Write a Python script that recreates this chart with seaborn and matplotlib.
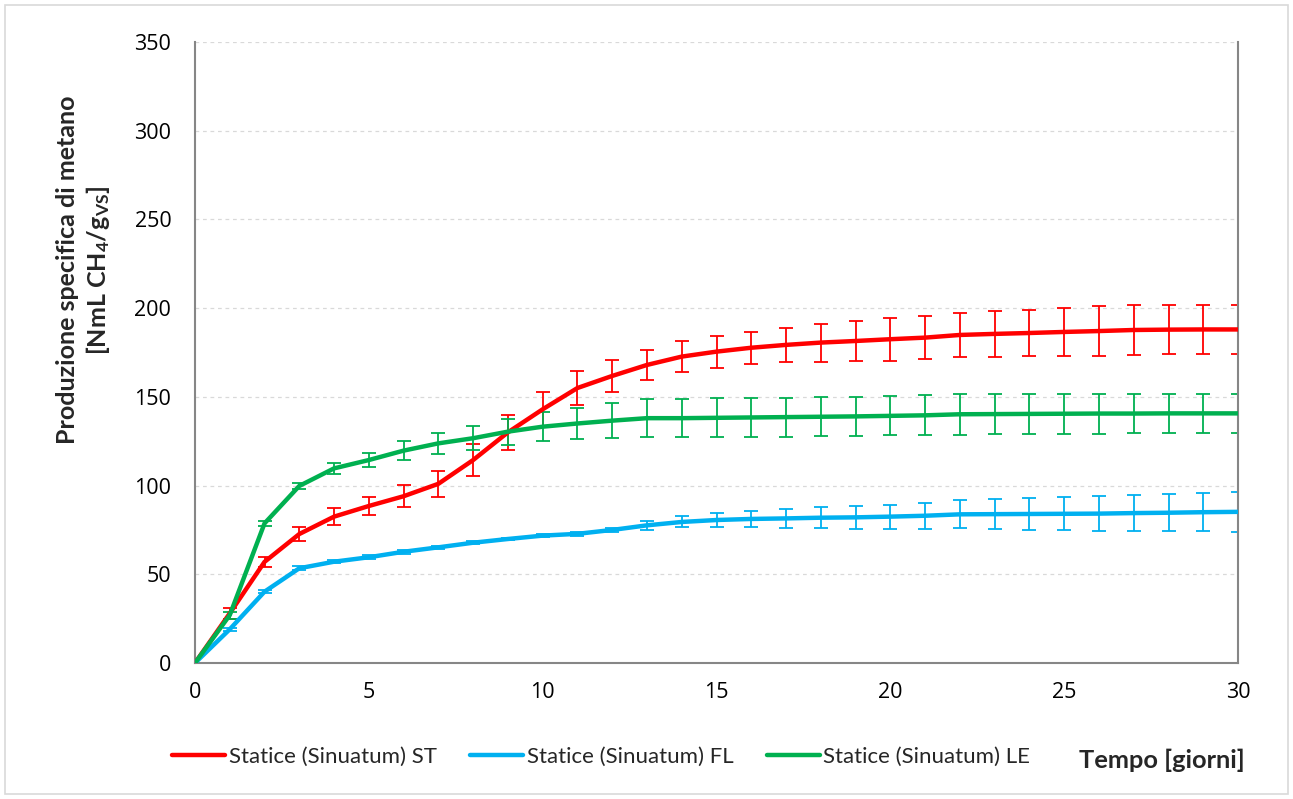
import numpy as np
import pandas as pd
import matplotlib
matplotlib.use("Agg")
import matplotlib.pyplot as plt
import seaborn as sns
from matplotlib.patches import Rectangle

# Giorni di digestione
giorni = list(range(0, 31))

# Produzione specifica cumulata [NmL CH4/gVS]
st_media = [0, 28, 57, 72.7, 82.5, 88.5, 94, 101, 114.4, 130, 143, 155, 161.8, 168,
            172.7, 175.5, 177.7, 179.3, 180.6, 181.5, 182.5, 183.4, 184.9, 185.5, 186,
            186.6, 187.1, 187.7, 187.9, 188, 188]
st_err = [0, 3, 3, 4, 4.6, 5, 6.3, 7.5, 9, 10, 10, 9.4, 9, 8.7, 8.7, 9, 9, 9.6, 10.7,
          11, 12, 12, 12.6, 12.9, 13, 13.5, 14, 14.2, 14, 13.8, 14]

fl_media = [0, 19, 40.2, 53.4, 57.1, 59.6, 62.7, 65.2, 67.8, 69.9, 71.8, 72.8, 75,
            77.6, 79.5, 80.6, 81.2, 81.5, 81.9, 82.1, 82.5, 83, 83.8, 83.9, 84, 84.1,
            84.2, 84.5, 84.7, 85, 85.2]
fl_err = [0, 1, 1, 1, 1, 1, 1, 0.8, 0.8, 0.8, 1, 1, 1.2, 2.4, 3.1, 3.9, 4.7, 5.2, 5.9,
          6.3, 6.8, 7.4, 7.8, 8.5, 9, 9.3, 9.7, 10, 10.5, 10.8, 11.3]

le_media = [0, 27, 78.7, 99.8, 109.7, 114.4, 119.7, 123.8, 126.7, 130.4, 133.2, 135,
            136.6, 138, 138, 138.2, 138.4, 138.6, 138.8, 139, 139.3, 139.6, 140.2, 140.3,
            140.4, 140.5, 140.6, 140.6, 140.7, 140.7, 140.7]
le_err = [0, 2, 1.5, 1.7, 3, 4, 5.3, 5.8, 6.8, 7.3, 8, 9, 9.7, 10.7, 10.8, 11, 11, 11,
          11, 11, 11, 11.2, 11.5, 11.5, 11.5, 11.4, 11.3, 11.2, 11.1, 11, 11]

serie = ["Statice (Sinuatum) ST", "Statice (Sinuatum) FL", "Statice (Sinuatum) LE"]
colori = ["#FF0000", "#00B0F0", "#00B050"]

y_ticks = [0, 50, 100, 150, 200, 250, 300, 350]
x_ticks = [0, 5, 10, 15, 20, 25, 30]

medie = [st_media, fl_media, le_media]
errori = [st_err, fl_err, le_err]

df = pd.concat(
    [pd.DataFrame({"giorno": giorni, "valore": m, "errore": e, "serie": s})
     for s, m, e in zip(serie, medie, errori)],
    ignore_index=True,
)

sns.set_style("white")
plt.rcParams["font.family"] = ["Lato", "DejaVu Sans"]
plt.rcParams["mathtext.fontset"] = "custom"
plt.rcParams["mathtext.rm"] = "Lato:bold"
plt.rcParams["mathtext.it"] = "Lato:bold"
plt.rcParams["mathtext.bf"] = "Lato:bold"

fig = plt.figure(figsize=(12.93, 7.99), dpi=100)
ax = fig.add_axes([0.1508, 0.1702, 0.8067, 0.7772])

# barre d'errore sotto le curve
for s, c in zip(serie, colori):
    d = df[df["serie"] == s]
    ax.errorbar(d["giorno"], d["valore"], yerr=d["errore"], fmt="none",
                ecolor=c, elinewidth=1.3, capsize=4.8, capthick=1.3, zorder=2)

sns.lineplot(data=df, x="giorno", y="valore", hue="serie", hue_order=serie,
             palette=colori, linewidth=3.2, ax=ax, legend=False, zorder=3,
             errorbar=None, sort=True)

ax.set_xlim(0, 30)
ax.set_ylim(0, 350)
ax.set_xticks(x_ticks, labels=[str(v) for v in x_ticks],
              fontfamily="Open Sans", fontsize=15.5)
ax.set_yticks(y_ticks, labels=[str(v) for v in y_ticks],
              fontfamily="Open Sans", fontsize=15.5)
ax.tick_params(axis="both", labelcolor="#000000", length=6,
               width=1.2, color="#868686", direction="out")
ax.tick_params(axis="y", pad=11)
ax.tick_params(axis="x", pad=8)
ax.yaxis.grid(True, linestyle=(0, (3, 3)), color="#D9D9D9", linewidth=0.9)
ax.xaxis.grid(False)
ax.set_axisbelow(True)

for name in ["left", "bottom", "right"]:
    ax.spines[name].set_color("#868686")
    ax.spines[name].set_linewidth(1.5)
ax.spines["top"].set_visible(False)

ax.set_xlabel("")
ax.set_ylabel("Produzione specifica di metano\n[NmL CH$_4$/g$_{\\mathrm{VS}}$]",
              fontsize=18, fontweight="bold", linespacing=1.2)
ax.yaxis.set_label_coords(-0.080, 0.633)

handles = [plt.Line2D([], [], color=c, linewidth=3.2) for c in colori]
fig.legend(handles, serie, loc="center", bbox_to_anchor=(0.465, 0.0526), ncol=3,
           frameon=False, fontsize=16, handlelength=2.4, handletextpad=0.15,
           columnspacing=1.5, borderpad=0, borderaxespad=0)

fig.text(0.9625, 0.049, "Tempo [giorni]", ha="right", va="center",
         fontsize=18.3, fontweight="bold")

# cornice esterna del grafico
fig.patches.append(Rectangle((0.004, 0.006), 0.992, 0.988, transform=fig.transFigure,
                             fill=False, edgecolor="#D9D9D9", linewidth=1.2))

fig.savefig("out.png", dpi=100, facecolor="white")
